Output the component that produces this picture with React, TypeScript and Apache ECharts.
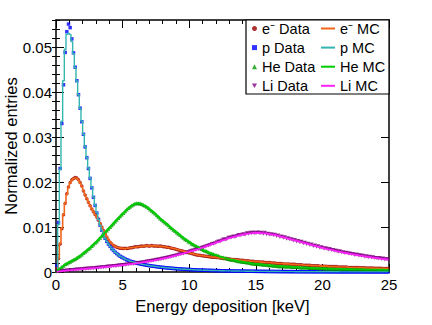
import React, { useEffect, useRef } from "react";
import * as echarts from "echarts";

// Histogram binning: 200 bins of 0.125 keV over 0–25 keV
const BIN_WIDTH = 0.125;
const X_MIN = 0;
const X_MAX = 25;
const Y_MAX = 0.056;

const SERIES_NAMES = ["e\u207B Data", "p Data", "He Data", "Li Data", "e\u207B MC", "p MC", "He MC", "Li MC"];

// ---------- Data (per 0.125 keV bin) ----------
const pData = [
  .0015, .0110, .0230, .0330, .0416, .0488, .0534, .0551,
  .0543, .0518, .0487, .0455, .0425, .0394, .0364, .0334,
  .0306, .0278, .0254, .0230, .0208, .0187, .0166, .0148,
  .0131, .0117, .0104, .0093, .0083, .0075, .0068, .0062,
  .0057, .0052, .0048, .0044, .0041, .0038, .0035, .0033,
  .0031, .0029, .0027, .0026, .0024, .0023, .0022, .0021,
  .0020, .0019, .0018, .00172, .00165, .00158, .00151, .00145,
  .00139, .00133, .00128, .00123, .00118, .00113, .00108, .00104,
  .00100, .00096, .00092, .00088, .00085, .00082, .00079, .00076,
  .00073, .00070, .00067, .00065, .00062, .00060, .00058, .00056,
  .00054, .00052, .00050, .00048, .00046, .00045, .00043, .00042,
  .00040, .00039, .00038, .00036, .00035, .00034, .00033, .00032,
  .00031, .00030, .00029, .00028, .00027, .00026, .00026, .00025,
  .00024, .00023, .00023, .00022, .00021, .00021, .00020, .00019,
  .00019, .00018, .00018, .00017, .00017, .00016, .00016, .00015,
  .00015, .00014, .00014, .00014, .00013, .00013, .00012, .00012,
  .00012, .00011, .00011, .00011, .00010, .00010, .00010, .00009,
  .00009, .00009, .00009, .00008, .00008, .00008, .00008, .00007,
  .00007, .00007, .00007, .00007, .00006, .00006, .00006, .00006,
  .00006, .00006, .00005, .00005, .00005, .00005, .00005, .00005,
  .00005, .00004, .00004, .00004, .00004, .00004, .00004, .00004,
  .00004, .00004, .00003, .00003, .00003, .00003, .00003, .00003,
  .00003, .00003, .00003, .00003, .00003, .00003, .00003, .00003,
  .00003, .00003, .00002, .00002, .00002, .00002, .00002, .00002,
  .00002, .00002, .00002, .00002, .00002, .00002, .00002, .00002,
];

const eData = [
  .0010, .0030, .0062, .0096, .0127, .0153, .0174, .0189,
  .0199, .0205, .0208, .0210, .0209, .0205, .0199, .0191,
  .0180, .0171, .0163, .0155, .0147, .0140, .0134, .0128,
  .0122, .0115, .0108, .0100, .0092, .0085, .0078, .0071,
  .0066, .0062, .0059, .0057, .0055, .0054, .0053, .0053,
  .0052, .0053, .0052, .0053, .0054, .0054, .0055, .0056,
  .0056, .0056, .0057, .0058, .0057, .0058, .0059, .0058,
  .0058, .0059, .0058, .0058, .0058, .0057, .0058, .0057,
  .0056, .0056, .0055, .0055, .0054, .0053, .0052, .0051,
  .0050, .0049, .0048, .0047, .0046, .0045, .0044, .0043,
  .0042, .0041, .0040, .0039, .0038, .0037, .0037, .0036,
  .0036, .0035, .0035, .0034, .0034, .0033, .0033, .0033,
  .0032, .0032, .0031, .0031, .0030, .0030, .0030, .0029,
  .0029, .0028, .0028, .0028, .0027, .0027, .0026, .0026,
  .0026, .0025, .0025, .0025, .0024, .0024, .0024, .0023,
  .0023, .0023, .0022, .0022, .0022, .0021, .0021, .0021,
  .0021, .0020, .0020, .0020, .0019, .0019, .0019, .0019,
  .0018, .0018, .0018, .0018, .0017, .0017, .0017, .0017,
  .0016, .0016, .0016, .0016, .0015, .0015, .0015, .0015,
  .0015, .0014, .0014, .0014, .0014, .0014, .0013, .0013,
  .0013, .0013, .0013, .0012, .0012, .0012, .0012, .0012,
  .0012, .0011, .0011, .0011, .0011, .0011, .0011, .0010,
  .0010, .0010, .0010, .0010, .0010, .00098, .00096, .00095,
  .00094, .00092, .00090, .00089, .00088, .00087, .00086, .00085,
  .00084, .00083, .00082, .00081, .00080, .00079, .00078, .00077,
];

const heData = [
  .0002, .0005, .0008, .0011, .0014, .0017, .0019, .0021,
  .0023, .0025, .0027, .0029, .0031, .0034, .0036, .0039,
  .0042, .0045, .0048, .0051, .0054, .0058, .0061, .0065,
  .0068, .0072, .0076, .0080, .0084, .0088, .0092, .0096,
  .0100, .0104, .0108, .0112, .0116, .0120, .0124, .0128,
  .0131, .0135, .0139, .0142, .0145, .0148, .0150, .0152,
  .0153, .0153, .0152, .0151, .0149, .0147, .0145, .0142,
  .0139, .0136, .0133, .0130, .0126, .0123, .0119, .0116,
  .0113, .0110, .0107, .0104, .0100, .0097, .0094, .0091,
  .0088, .0085, .0082, .0079, .0076, .0073, .0071, .0068,
  .0066, .0063, .0061, .0059, .0057, .0055, .0053, .0051,
  .0049, .0047, .0046, .0044, .0042, .0041, .0040, .0038,
  .0037, .0036, .0034, .0033, .0032, .0031, .0030, .0029,
  .0028, .0027, .0027, .0026, .0025, .0024, .0024, .0023,
  .0022, .0022, .0021, .0021, .0020, .0019, .0019, .0018,
  .0018, .0018, .0017, .0017, .0016, .0016, .0016, .0015,
  .0015, .0015, .0014, .0014, .0014, .0013, .0013, .0013,
  .0013, .0012, .0012, .0012, .0012, .0011, .0011, .0011,
  .0011, .0011, .0010, .0010, .0010, .0010, .0010, .00095,
  .00093, .00091, .00090, .00088, .00087, .00085, .00084, .00082,
  .00081, .00080, .00078, .00077, .00076, .00075, .00074, .00073,
  .00072, .00071, .00070, .00069, .00068, .00067, .00066, .00065,
  .00064, .00063, .00063, .00062, .00061, .00060, .00060, .00059,
  .00058, .00058, .00057, .00056, .00056, .00055, .00055, .00054,
  .00054, .00053, .00053, .00052, .00052, .00051, .00051, .00050,
];

const liData = [
  .00005, .0001, .00015, .0002, .00025, .0003, .00033, .00036,
  .0004, .00043, .00046, .0005, .00053, .00056, .0006, .00063,
  .00066, .0007, .00073, .00076, .0008, .00083, .00086, .0009,
  .00093, .00097, .0010, .00104, .00108, .00112, .00116, .0012,
  .00124, .00128, .00132, .00136, .0014, .00144, .00148, .00153,
  .00157, .00162, .00166, .00171, .00176, .00181, .00186, .00191,
  .00196, .00201, .00207, .00213, .00219, .00225, .00231, .00237,
  .00244, .0025, .00257, .00264, .00271, .00278, .00286, .00294,
  .00302, .0031, .00318, .00327, .00336, .00345, .00354, .00363,
  .00373, .00383, .00393, .00403, .00413, .00424, .00435, .00446,
  .0046, .0047, .0048, .0049, .0050, .0051, .0052, .0054,
  .0055, .0056, .0058, .0059, .0060, .0062, .0063, .0064,
  .0066, .0068, .0068, .0070, .0072, .0072, .0073, .0076,
  .0076, .0077, .0079, .0078, .0080, .0082, .0081, .0083,
  .0084, .0083, .0086, .0085, .0087, .0086, .0088, .0086,
  .0087, .0088, .0086, .0087, .0085, .0087, .0084, .0085,
  .0083, .0084, .0082, .0083, .0080, .0081, .0078, .0079,
  .0076, .0077, .0074, .0075, .0072, .0073, .0070, .0071,
  .0068, .0069, .0066, .0067, .0064, .0065, .0062, .0063,
  .0060, .0061, .0058, .0059, .0056, .0057, .0054, .0055,
  .0053, .0052, .0052, .0050, .0051, .0049, .0049, .0047,
  .0047, .0045, .0046, .0044, .0044, .0042, .0043, .0041,
  .0041, .0040, .0040, .0038, .0039, .0037, .0037, .0036,
  .0036, .0034, .0035, .0033, .0034, .0032, .0033, .0031,
  .0031, .0030, .0031, .0029, .0030, .0028, .0029, .0027,
];

// ---------- Monte Carlo (per 0.125 keV bin) ----------
const pMC = [
  .0008, .0105, .0228, .0335, .0425, .0495, .0528, .0530,
  .0528, .0512, .0485, .0454, .0424, .0394, .0364, .0335,
  .0306, .0279, .0254, .0231, .0209, .0188, .0167, .0149,
  .0132, .0117, .0104, .0093, .0084, .0075, .0068, .0062,
  .0057, .0052, .0048, .0044, .0041, .0038, .0035, .0033,
  .0031, .0029, .0027, .0026, .0024, .0023, .0022, .0021,
  .0020, .0019, .0018, .00172, .00165, .00158, .00151, .00145,
  .00139, .00133, .00128, .00123, .00118, .00113, .00108, .00104,
  .00100, .00096, .00092, .00088, .00085, .00082, .00079, .00076,
  .00073, .00070, .00067, .00065, .00062, .00060, .00058, .00056,
  .00054, .00052, .00050, .00048, .00046, .00045, .00043, .00042,
  .00040, .00039, .00038, .00036, .00035, .00034, .00033, .00032,
  .00031, .00030, .00029, .00028, .00027, .00026, .00026, .00025,
  .00024, .00023, .00023, .00022, .00021, .00021, .00020, .00019,
  .00019, .00018, .00018, .00017, .00017, .00016, .00016, .00015,
  .00015, .00014, .00014, .00014, .00013, .00013, .00012, .00012,
  .00012, .00011, .00011, .00011, .00010, .00010, .00010, .00009,
  .00009, .00009, .00009, .00008, .00008, .00008, .00008, .00007,
  .00007, .00007, .00007, .00007, .00006, .00006, .00006, .00006,
  .00006, .00006, .00005, .00005, .00005, .00005, .00005, .00005,
  .00005, .00004, .00004, .00004, .00004, .00004, .00004, .00004,
  .00004, .00004, .00003, .00003, .00003, .00003, .00003, .00003,
  .00003, .00003, .00003, .00003, .00003, .00003, .00003, .00003,
  .00003, .00003, .00002, .00002, .00002, .00002, .00002, .00002,
  .00002, .00002, .00002, .00002, .00002, .00002, .00002, .00002,
];

const eMC = [
  .0008, .0032, .0064, .0098, .0128, .0153, .0173, .0188,
  .0198, .0204, .0208, .0209, .0208, .0204, .0198, .0190,
  .0180, .0171, .0163, .0155, .0147, .0140, .0134, .0128,
  .0122, .0115, .0108, .0100, .0092, .0085, .0078, .0072,
  .0067, .0063, .0060, .0057, .0055, .0054, .0053, .0053,
  .0052, .0052, .0053, .0053, .0054, .0054, .0055, .0055,
  .0056, .0056, .0057, .0057, .0057, .0058, .0058, .0058,
  .0058, .0058, .0058, .0058, .0058, .0057, .0057, .0057,
  .0056, .0056, .0055, .0054, .0054, .0053, .0052, .0051,
  .0050, .0049, .0048, .0047, .0046, .0045, .0044, .0043,
  .0042, .0041, .0040, .0039, .0038, .0037, .0037, .0036,
  .0036, .0035, .0035, .0034, .0034, .0033, .0033, .0033,
  .0032, .0032, .0031, .0031, .0030, .0030, .0030, .0029,
  .0029, .0028, .0028, .0028, .0027, .0027, .0026, .0026,
  .0026, .0025, .0025, .0025, .0024, .0024, .0024, .0023,
  .0023, .0023, .0022, .0022, .0022, .0021, .0021, .0021,
  .0021, .0020, .0020, .0020, .0019, .0019, .0019, .0019,
  .0018, .0018, .0018, .0018, .0017, .0017, .0017, .0017,
  .0016, .0016, .0016, .0016, .0015, .0015, .0015, .0015,
  .0015, .0014, .0014, .0014, .0014, .0014, .0013, .0013,
  .0013, .0013, .0013, .0012, .0012, .0012, .0012, .0012,
  .0012, .0011, .0011, .0011, .0011, .0011, .0011, .0010,
  .0010, .0010, .0010, .0010, .0010, .00098, .00096, .00095,
  .00094, .00092, .00090, .00089, .00088, .00087, .00086, .00085,
  .00084, .00083, .00082, .00081, .00080, .00079, .00078, .00077,
];

const heMC = [
  .0002, .0005, .0008, .0011, .0014, .0017, .0019, .0021,
  .0023, .0025, .0027, .0029, .0031, .0034, .0036, .0039,
  .0042, .0045, .0048, .0051, .0054, .0058, .0061, .0065,
  .0068, .0072, .0076, .0080, .0084, .0088, .0092, .0096,
  .0100, .0104, .0108, .0112, .0116, .0120, .0124, .0128,
  .0131, .0135, .0139, .0142, .0145, .0148, .0150, .0152,
  .0153, .0153, .0152, .0151, .0149, .0147, .0145, .0142,
  .0139, .0136, .0133, .0130, .0126, .0123, .0119, .0116,
  .0113, .0110, .0107, .0104, .0100, .0097, .0094, .0091,
  .0088, .0085, .0082, .0079, .0076, .0073, .0071, .0068,
  .0066, .0063, .0061, .0059, .0057, .0055, .0053, .0051,
  .0049, .0047, .0046, .0044, .0042, .0041, .0040, .0038,
  .0037, .0036, .0034, .0033, .0032, .0031, .0030, .0029,
  .0028, .0027, .0027, .0026, .0025, .0024, .0024, .0023,
  .0022, .0022, .0021, .0021, .0020, .0019, .0019, .0018,
  .0018, .0018, .0017, .0017, .0016, .0016, .0016, .0015,
  .0015, .0015, .0014, .0014, .0014, .0013, .0013, .0013,
  .0013, .0012, .0012, .0012, .0012, .0011, .0011, .0011,
  .0011, .0011, .0010, .0010, .0010, .0010, .0010, .00095,
  .00093, .00091, .00090, .00088, .00087, .00085, .00084, .00082,
  .00081, .00080, .00078, .00077, .00076, .00075, .00074, .00073,
  .00072, .00071, .00070, .00069, .00068, .00067, .00066, .00065,
  .00064, .00063, .00063, .00062, .00061, .00060, .00060, .00059,
  .00058, .00058, .00057, .00056, .00056, .00055, .00055, .00054,
  .00054, .00053, .00053, .00052, .00052, .00051, .00051, .00050,
];

const liMC = [
  .00005, .0001, .00015, .0002, .00025, .0003, .00033, .00036,
  .0004, .00043, .00046, .0005, .00053, .00056, .0006, .00063,
  .00066, .0007, .00073, .00076, .0008, .00083, .00086, .0009,
  .00093, .00097, .0010, .00104, .00108, .00112, .00116, .0012,
  .00124, .00128, .00132, .00136, .0014, .00144, .00148, .00153,
  .00157, .00162, .00166, .00171, .00176, .00181, .00186, .00191,
  .00196, .00201, .00207, .00213, .00219, .00225, .00231, .00237,
  .00244, .0025, .00257, .00264, .00271, .00278, .00286, .00294,
  .00302, .0031, .00318, .00327, .00336, .00345, .00354, .00363,
  .00373, .00383, .00393, .00403, .00413, .00424, .00435, .00446,
  .0046, .0047, .0048, .0049, .0050, .0051, .0052, .0054,
  .0055, .0056, .0058, .0059, .0060, .0062, .0063, .0064,
  .0066, .0067, .0068, .0070, .0071, .0072, .0073, .0075,
  .0076, .0077, .0078, .0079, .0080, .0081, .0082, .0083,
  .0083, .0084, .0085, .0085, .0086, .0086, .0087, .0087,
  .0087, .0087, .0087, .0086, .0086, .0086, .0085, .0085,
  .0084, .0083, .0083, .0082, .0081, .0080, .0079, .0078,
  .0077, .0076, .0075, .0074, .0073, .0072, .0071, .0070,
  .0069, .0068, .0067, .0066, .0065, .0064, .0063, .0062,
  .0061, .0060, .0059, .0058, .0057, .0056, .0055, .0054,
  .0053, .0052, .0051, .0050, .0050, .0049, .0048, .0047,
  .0046, .0045, .0045, .0044, .0043, .0042, .0042, .0041,
  .0040, .0040, .0039, .0038, .0038, .0037, .0036, .0036,
  .0035, .0035, .0034, .0033, .0033, .0032, .0032, .0031,
  .0031, .0030, .0030, .0029, .0029, .0028, .0028, .0027,
];

const FONT = "'Liberation Sans', Arial, Helvetica, sans-serif";

const toPairs = (vals: number[]) => vals.map((v, i) => [(i + 0.5) * BIN_WIDTH, v]);

const INV_TRIANGLE = "path://M0,0 L10,0 L5,9 Z";

export default function App() {
  const ref = useRef<HTMLDivElement>(null);

  useEffect(() => {
    document.body.style.margin = "0";
    if (!ref.current) return;
    const chart = echarts.init(ref.current, undefined, { renderer: "svg" });

    const frameLine = { show: true, onZero: false, lineStyle: { color: "#000", width: 1.5 } };
    const majorTick = { show: true, inside: true, length: 8, lineStyle: { color: "#000", width: 1 } };
    const minorTickY = { show: true, inside: true, length: 4, lineStyle: { color: "#000", width: 1 } };
    const labelStyle = { color: "#000", fontSize: 15, fontFamily: FONT };

    const dataSeries = (name: string, vals: number[], color: string, symbol: string, size: number) => ({
      name,
      type: "scatter",
      data: toPairs(vals),
      symbol,
      symbolSize: size,
      itemStyle: { color },
      z: 2,
      silent: true,
    });
    const mcSeries = (name: string, vals: number[], color: string, width: number) => ({
      name,
      type: "line",
      data: toPairs(vals),
      step: "middle",
      showSymbol: false,
      symbol: "none",
      lineStyle: { color, width },
      itemStyle: { color },
      z: 3,
      silent: true,
    });

    const legendText = { color: "#000", fontSize: 14.5, lineHeight: 14.5, fontFamily: FONT };

    chart.setOption({
      animation: false,
      textStyle: { fontFamily: FONT },
      grid: { left: 56, top: 20, right: 43, bottom: 53, containLabel: false, outerBoundsMode: "none" },
      xAxis: [
        {
          type: "value", min: X_MIN, max: X_MAX, interval: 5, position: "bottom",
          axisLine: frameLine, axisTick: majorTick,
          minorTick: { show: true, splitNumber: 5, length: 4, lineStyle: { color: "#000" } },
          splitLine: { show: false }, minorSplitLine: { show: false },
          axisLabel: { ...labelStyle, margin: 5 },
          name: "Energy deposition [keV]", nameLocation: "middle", nameGap: 25,
          nameMoveOverlap: false,
          nameTextStyle: { color: "#000", fontSize: 16.5, fontFamily: FONT },
        },
        {
          type: "value", min: X_MIN, max: X_MAX, interval: 5, position: "top",
          axisLine: frameLine, axisTick: majorTick,
          minorTick: { show: true, splitNumber: 5, length: 4, lineStyle: { color: "#000" } },
          splitLine: { show: false }, axisLabel: { show: false },
        },
      ],
      yAxis: [
        {
          type: "value", min: 0, max: Y_MAX, interval: 0.01, position: "left",
          axisLine: frameLine, axisTick: majorTick, splitLine: { show: false },
          axisLabel: {
            ...labelStyle, margin: 4, showMaxLabel: false,
            formatter: (v: number) => (v === 0 ? "0" : v.toFixed(2)),
          },
          name: "Normalized entries", nameLocation: "middle", nameGap: 37,
          nameMoveOverlap: false,
          nameTextStyle: { color: "#000", fontSize: 16.5, fontFamily: FONT },
        },
        {
          type: "value", min: 0, max: Y_MAX, interval: 0.01, position: "right",
          axisLine: frameLine, axisTick: majorTick, splitLine: { show: false },
          axisLabel: { show: false },
        },
        {
          type: "value", min: 0, max: Y_MAX, interval: 0.002, position: "left",
          axisLine: { show: false }, axisTick: minorTickY, splitLine: { show: false },
          axisLabel: { show: false },
        },
        {
          type: "value", min: 0, max: Y_MAX, interval: 0.002, position: "right",
          axisLine: { show: false }, axisTick: minorTickY, splitLine: { show: false },
          axisLabel: { show: false },
        },
      ],
      legend: [
        {
          data: SERIES_NAMES.slice(0, 4),
          orient: "vertical", left: 252, top: 21, padding: 0,
          itemWidth: 5, itemHeight: 5, itemGap: 4.1,
          selectedMode: false,
          textStyle: legendText,
        },
        {
          data: SERIES_NAMES.slice(4).map((n) => ({ name: n, icon: "rect" })),
          orient: "vertical", left: 321, top: 21, padding: 0,
          itemWidth: 14, itemHeight: 2, itemGap: 4.1,
          selectedMode: false,
          textStyle: legendText,
        },
      ],
      graphic: [
        {
          type: "rect", z: 3,
          shape: { x: 246, y: 20, width: 143, height: 74 },
          style: { fill: "#fff", stroke: "#000", lineWidth: 1.2 },
        },
      ],
      series: [
        dataSeries(SERIES_NAMES[0], eData, "#990000", "circle", 3.5),
        dataSeries(SERIES_NAMES[1], pData, "#0000ff", "rect", 3.5),
        dataSeries(SERIES_NAMES[2], heData, "#009900", "triangle", 4),
        dataSeries(SERIES_NAMES[3], liData, "#800080", INV_TRIANGLE, 4),
        mcSeries(SERIES_NAMES[4], eMC, "#f2661a", 1.6),
        mcSeries(SERIES_NAMES[5], pMC, "#33b5b0", 1.4),
        mcSeries(SERIES_NAMES[6], heMC, "#00cc00", 1.6),
        mcSeries(SERIES_NAMES[7], liMC, "#ff22ff", 1.6),
      ],
    });

    return () => chart.dispose();
  }, []);

  return <div ref={ref} style={{ width: 432, height: 325 }} />;
}
